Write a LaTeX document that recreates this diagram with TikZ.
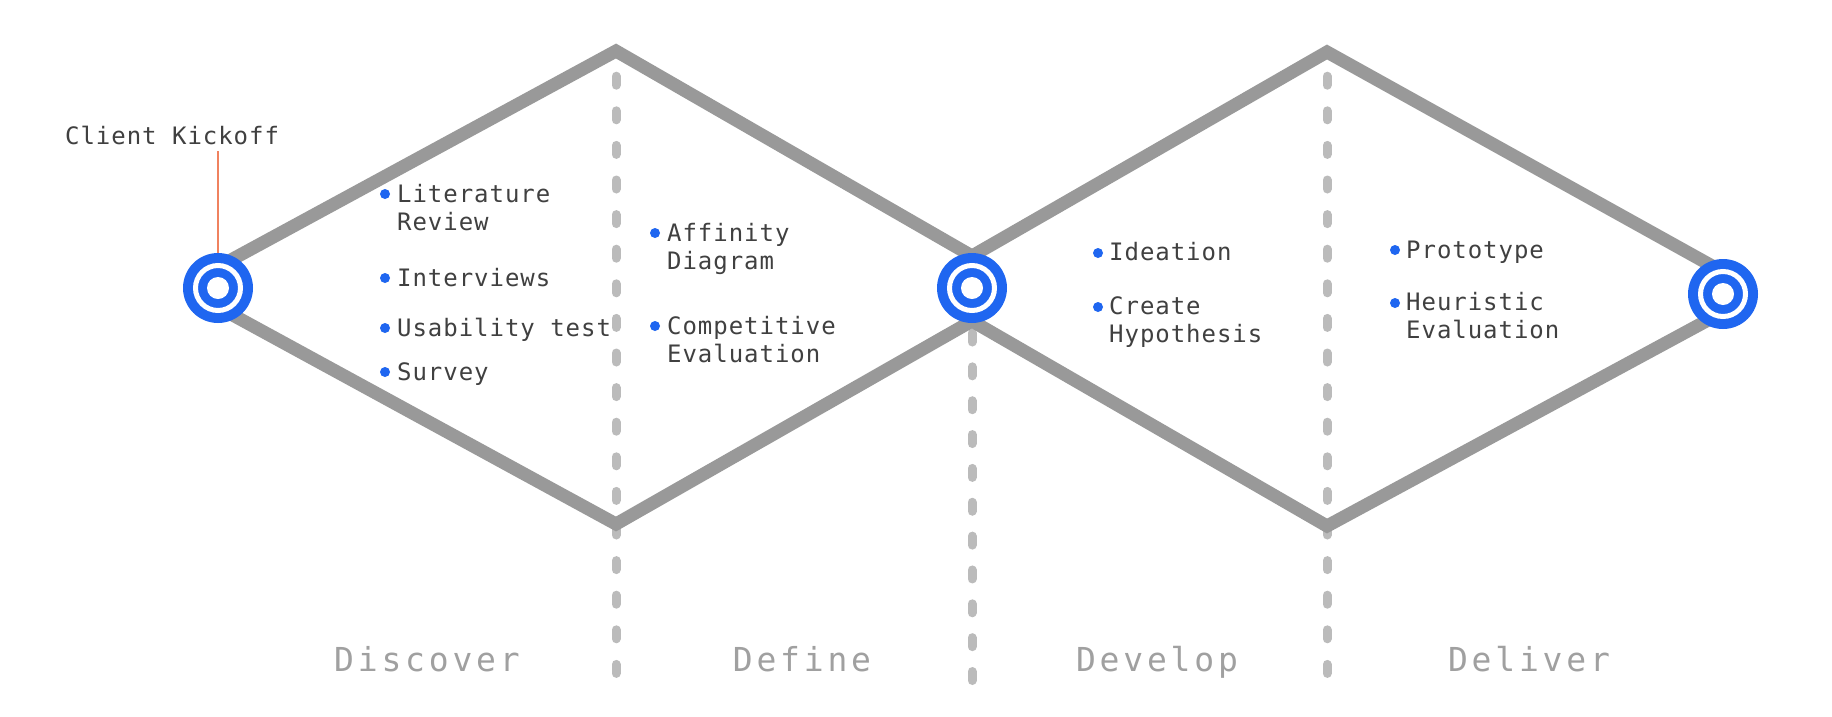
\documentclass[tikz,border=0pt]{standalone}
\usepackage{fontspec}
\setmonofont{DejaVu Sans Mono}
\newfontfamily\itemfont[LetterSpace=4]{DejaVu Sans Mono}
\newfontfamily\phasefont[LetterSpace=11.5]{DejaVu Sans Mono}
\usepackage{xcolor}
\usepackage{tikz}
\usetikzlibrary{positioning}
\definecolor{dgblue}{RGB}{31,102,240}
\definecolor{dggray}{RGB}{153,153,153}
\definecolor{dgdash}{RGB}{187,187,187}
\definecolor{dgtext}{RGB}{64,64,64}
\definecolor{dglabel}{RGB}{160,160,160}
\definecolor{dgorange}{RGB}{240,130,95}

\tikzset{
  milestone/.style={circle, fill=dgblue, minimum size=70pt, inner sep=0pt,
    path picture={
      \draw[white, line width=5pt] (path picture bounding box.center) circle (22.5pt);
      \fill[white] (path picture bounding box.center) circle (11pt);}},
  itemdot/.style={circle, fill=dgblue, minimum size=10pt, inner sep=0pt},
  itemtext/.style={anchor=base west, inner sep=0pt, align=left, text=dgtext,
    font=\itemfont\fontsize{24}{28.7}\selectfont},
  phaselabel/.style={anchor=base, inner sep=0pt, text=dglabel,
    font=\phasefont\fontsize{33}{33}\selectfont},
  track/.style={dggray, line width=13pt, line join=miter},
  divider/.style={dgdash, line width=9pt, line cap=round, dash pattern=on 9pt off 25.6pt},
  kickline/.style={dgorange, line width=2pt}
}

\begin{document}
\begin{tikzpicture}[x=1pt, y=-1pt]

\path[fill=white, use as bounding box] (0,0) rectangle (1832,716);

%% corners of the two diamonds
\coordinate (ustart) at (218,267);
\coordinate (utop1)  at (616,51);
\coordinate (umid)   at (972,256);
\coordinate (utop2)  at (1327,52);
\coordinate (uend)   at (1723,272);
\coordinate (lstart) at (218,307);
\coordinate (lbot1)  at (616,524);
\coordinate (lmid)   at (972,321);
\coordinate (lbot2)  at (1327,526);
\coordinate (lend)   at (1723,312);

%% dashed dividers -- under the diamonds
\draw[divider] (616,76.2) -- (616,673.4);
\draw[divider, dash pattern=on 9pt off 24.85pt] (972,333) -- (972,681);
\draw[divider] (1327,76.2) -- (1327,673.4);

%% diamond outlines
\draw[track] (ustart) -- (utop1) -- (umid) -- (utop2) -- (uend);
\draw[track] (lstart) -- (lbot1) -- (lmid) -- (lbot2) -- (lend);

%% milestones
\node[milestone] (mstart) at (218,288) {};
\node[milestone] (mmid)   at (972,288) {};
\node[milestone] (mend)   at (1723,294) {};

%% kickoff label
\node[itemtext, inner ysep=6pt] (kicklabel) at (65,144) {Client Kickoff};
\draw[kickline] (mstart.north) -- (mstart.north |- kicklabel.south);

%% discover (two-line nodes sit on their last line)
\node[itemdot] (litdot)  at (385,194) {};
\node[itemtext] (lit)    at (397,230.7) {Literature\\Review};
\node[itemdot] (intvdot) at (385,278) {};
\node[itemtext] (intv)   at (397,286) {Interviews};
\node[itemdot] (usabdot) at (385,328) {};
\node[itemtext] (usab)   at (397,336) {Usability test};
\node[itemdot] (survdot) at (385,372) {};
\node[itemtext] (surv)   at (397,380) {Survey};

%% define
\node[itemdot] (affindot)  at (655,233) {};
\node[itemtext] (affin)    at (667,269.7) {Affinity\\Diagram};
\node[itemdot] (competdot) at (655,326) {};
\node[itemtext] (compet)   at (667,362.7) {Competitive\\Evaluation};

%% develop
\node[itemdot] (ideadot) at (1098,253) {};
\node[itemtext] (idea)   at (1109,260) {Ideation};
\node[itemdot] (hypodot) at (1098,307) {};
\node[itemtext] (hypo)   at (1109,342.7) {Create\\Hypothesis};

%% deliver
\node[itemdot] (protodot) at (1395,250) {};
\node[itemtext] (proto)   at (1406,258) {Prototype};
\node[itemdot] (heurdot)  at (1395,303) {};
\node[itemtext] (heur)    at (1406,338.7) {Heuristic\\Evaluation};

%% phase names
\node[phaselabel] (discover) at (427,671) {Discover};
\node[phaselabel] (define)   at (802,671) {Define};
\node[phaselabel] (develop)  at (1157,671) {Develop};
\node[phaselabel] (deliver)  at (1529,671) {Deliver};

\end{tikzpicture}
\end{document}
